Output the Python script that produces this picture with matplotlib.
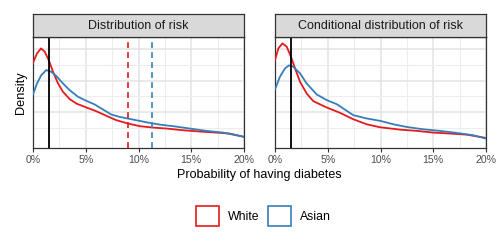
import numpy as np
import matplotlib
matplotlib.use("Agg")
import matplotlib.pyplot as plt
from matplotlib.patches import Patch

plt.rcParams["font.family"] = ["Liberation Sans", "DejaVu Sans"]

# risk (%) and density, per panel and group
white_x1 = [0, 0.38, 0.76, 1.11, 1.49, 1.90, 2.37, 2.84, 3.48, 4.11, 5.06, 6.00, 6.95,
            7.90, 9.00, 10.11, 11.37, 12.64, 14.22, 15.80, 17.38, 18.64, 20]
white_y1 = [5.15, 5.74, 6.06, 5.85, 5.32, 4.57, 3.83, 3.30, 2.83, 2.55, 2.30, 2.06, 1.77,
            1.49, 1.28, 1.11, 1.02, 0.96, 0.85, 0.77, 0.70, 0.64, 0.43]
asian_x1 = [0, 0.38, 0.79, 1.26, 1.74, 2.21, 2.84, 3.48, 4.27, 5.06, 5.85, 6.64, 7.42,
            8.21, 9.48, 10.74, 12.01, 13.27, 14.85, 16.43, 18.01, 20]
asian_y1 = [3.13, 3.83, 4.36, 4.68, 4.57, 4.30, 3.83, 3.40, 2.98, 2.72, 2.49, 2.17, 1.85,
            1.70, 1.53, 1.36, 1.21, 1.11, 0.96, 0.81, 0.70, 0.43]

white_x2 = [0, 0.32, 0.70, 1.11, 1.49, 1.90, 2.37, 3.00, 3.63, 4.90, 6.16, 7.42, 8.69,
            9.95, 11.85, 13.43, 15.01, 16.59, 18.17, 20]
white_y2 = [5.32, 6.06, 6.38, 6.17, 5.57, 4.79, 3.94, 3.19, 2.70, 2.30, 1.96, 1.55, 1.23,
            1.04, 0.89, 0.81, 0.70, 0.64, 0.57, 0.36]
asian_x2 = [0, 0.47, 0.95, 1.33, 1.74, 2.37, 3.00, 3.95, 4.90, 5.85, 6.48, 7.42, 8.69,
            9.95, 11.22, 12.48, 14.06, 15.64, 17.22, 18.80, 20]
asian_y2 = [3.45, 4.26, 4.79, 4.98, 4.89, 4.47, 3.83, 3.13, 2.77, 2.51, 2.23, 1.81, 1.60,
            1.45, 1.23, 1.06, 0.91, 0.81, 0.68, 0.53, 0.32]

threshold = 1.5
mean_white = 9.0
mean_asian = 11.3

titles = ["Distribution of risk", "Conditional distribution of risk"]
groups = ["White", "Asian"]
colors = {"White": "#E41A1C", "Asian": "#377EB8"}

fig = plt.figure(figsize=(5, 2.5), dpi=100)

panels = [
    (0.066, [(white_x1, white_y1, "White"), (asian_x1, asian_y1, "Asian")], True),
    (0.550, [(white_x2, white_y2, "White"), (asian_x2, asian_y2, "Asian")], False),
]

for i, (left, curves, show_means) in enumerate(panels):
    ax = fig.add_axes([left, 0.408, 0.422, 0.443])
    ax.set_xlim(0, 20)
    ax.set_ylim(-0.28, 6.77)
    ax.set_xticks([0, 5, 10, 15, 20])
    ax.set_xticklabels(["0%", "5%", "10%", "15%", "20%"])
    ax.set_xticks([2.5, 7.5, 12.5, 17.5], minor=True)
    ax.set_yticks([2, 4, 6])
    ax.set_yticks([1, 3, 5], minor=True)
    ax.grid(True, which="major", color="#E3E3E3", lw=1.1)
    ax.grid(True, which="minor", color="#EDEDED", lw=0.8)
    ax.set_axisbelow(True)
    ax.tick_params(axis="x", which="major", length=3, color="#333333",
                   labelsize=7.6, labelcolor="#4D4D4D", pad=2.3)
    ax.tick_params(axis="x", which="minor", length=0)
    ax.tick_params(axis="y", which="both", length=0, labelleft=False)
    for s in ax.spines.values():
        s.set_color("#333333")
        s.set_linewidth(0.9)

    for x, y, g in curves:
        ax.plot(x, y, color=colors[g], lw=1.3, zorder=3, solid_joinstyle="round")
    ax.axvline(threshold, color="black", lw=1.3, zorder=4)
    if show_means:
        ax.axvline(mean_white, color=colors["White"], lw=1.2, ls=(0, (3.5, 2.5)), zorder=4)
        ax.axvline(mean_asian, color=colors["Asian"], lw=1.2, ls=(0, (3.5, 2.5)), zorder=4)
        ax.set_ylabel("Density", fontsize=9.2, color="black", labelpad=4)

    # facet strip
    sx = fig.add_axes([left, 0.851, 0.422, 0.093])
    sx.set_xticks([])
    sx.set_yticks([])
    sx.set_facecolor("#D9D9D9")
    for s in sx.spines.values():
        s.set_color("#333333")
        s.set_linewidth(0.9)
    sx.text(0.5, 0.48, titles[i], ha="center", va="center", fontsize=9,
            color="#1A1A1A", transform=sx.transAxes)

fig.text(0.519, 0.30, "Probability of having diabetes", ha="center", va="center",
         fontsize=9, color="black")

handles = [Patch(facecolor="white", edgecolor=colors[g], lw=1.2, label=g) for g in groups]
fig.legend(handles=handles, loc="center", bbox_to_anchor=(0.527, 0.136), ncol=2,
           frameon=False, fontsize=8.8, handlelength=1.85, handleheight=2.2,
           columnspacing=0.75, handletextpad=0.75)

fig.savefig("out.png", dpi=100)
